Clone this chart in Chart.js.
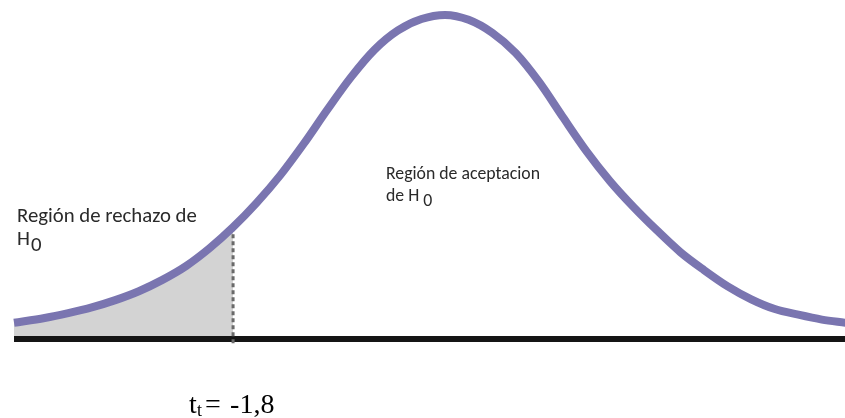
<!DOCTYPE html>
<html>
<head>
<meta charset="utf-8">
<script src="https://cdn.jsdelivr.net/npm/chart.js@4.4.1/dist/chart.umd.min.js"></script>
<style>
  html, body { margin: 0; padding: 0; background: #fff; }
  #curva { display: block; }
</style>
</head>
<body>
<canvas id="curva" width="845" height="418"></canvas>
<script>
// Valores (t vs. altura de la curva)
const tValues = [-3.66, -3.4, -3.2, -3.0, -2.8, -2.6, -2.4, -2.2, -2.0, -1.8, -1.6, -1.4, -1.2, -1.0, -0.8, -0.6, -0.4, -0.2, 0,
  0.2, 0.4, 0.6, 0.8, 1.0, 1.2, 1.4, 1.6, 1.8, 2.0, 2.2, 2.4, 2.6, 2.8, 3.0, 3.2, 3.4];
const densidad = [0.020, 0.026, 0.032, 0.039, 0.048, 0.059, 0.073, 0.090, 0.112, 0.138, 0.168, 0.202, 0.241, 0.283, 0.323, 0.357, 0.381, 0.395, 0.400,
  0.394, 0.378, 0.353, 0.317, 0.274, 0.232, 0.195, 0.163, 0.134, 0.107, 0.085, 0.065, 0.049, 0.037, 0.030, 0.024, 0.020];
const tCritico = -1.8;
const piso = -0.009;

const sansFont = "Carlito, Calibri, Lato, 'Open Sans', sans-serif";
const serifFont = "'Liberation Serif', 'Times New Roman', serif";

const curva = tValues.map((t, i) => ({ x: t, y: densidad[i] }));
const rechazo = curva.filter(p => p.x <= tCritico);
const alturaCritica = densidad[tValues.indexOf(tCritico)];

// Fit text to a width by scaling the font size
const fitFont = (ctx, text, width, family) => {
  ctx.font = `20px ${family}`;
  const size = 20 * width / ctx.measureText(text).width;
  return `${size.toFixed(2)}px ${family}`;
};

const textos = {
  id: 'textos',
  afterDraw(chart) {
    const ctx = chart.ctx;
    ctx.save();
    ctx.textBaseline = 'alphabetic';
    ctx.textAlign = 'left';
    ctx.fillStyle = '#2a2a2a';

    // Region de rechazo
    ctx.font = fitFont(ctx, 'Región de rechazo de', 180, sansFont);
    ctx.fillText('Región de rechazo de', 17, 222);
    ctx.fillText('H', 17, 245);
    ctx.fillText('0', 31, 251);

    // Region de aceptacion
    ctx.font = fitFont(ctx, 'Región de aceptacion', 154, sansFont);
    ctx.fillText('Región de aceptacion', 386, 179);
    ctx.fillText('de H', 386, 201);
    const wDe = ctx.measureText('de H').width;
    ctx.fillText('0', 386 + wDe + 4, 206);

    // t critico
    const xc = chart.scales.x.getPixelForValue(tCritico);
    ctx.fillStyle = '#000';
    ctx.font = `28px ${serifFont}`;
    ctx.fillText('t', xc - 44, 413);
    ctx.fillText('=', xc - 28, 413);
    ctx.fillText(String(tCritico).replace('.', ','), xc - 3, 413);
    ctx.font = `18px ${serifFont}`;
    ctx.fillText('t', xc - 36, 416);
    ctx.restore();
  }
};

new Chart(document.getElementById('curva'), {
  type: 'line',
  data: {
    datasets: [
      {
        label: 'curva',
        data: curva,
        borderColor: '#7a75b0',
        borderWidth: 8,
        cubicInterpolationMode: 'monotone',
        pointRadius: 0,
        fill: false,
      },
      {
        label: 'corte',
        data: [{ x: tCritico, y: alturaCritica }, { x: tCritico, y: piso }],
        borderColor: '#6a6a6a',
        borderWidth: 3,
        borderDash: [4, 3],
        pointRadius: 0,
        fill: false,
      },
      {
        label: 'base',
        data: [{ x: tValues[0], y: 0 }, { x: tValues[tValues.length - 1], y: 0 }],
        borderColor: '#151515',
        borderWidth: 6,
        pointRadius: 0,
        fill: false,
      },
      {
        label: 'rechazo',
        data: rechazo,
        borderWidth: 0,
        borderColor: 'rgba(0,0,0,0)',
        backgroundColor: '#d3d3d3',
        cubicInterpolationMode: 'monotone',
        pointRadius: 0,
        fill: 'origin',
      },
    ],
  },
  options: {
    responsive: false,
    animation: false,
    clip: false,
    layout: { padding: 0 },
    plugins: {
      legend: { display: false },
      tooltip: { enabled: false },
    },
    scales: {
      x: { type: 'linear', display: false, min: -3.779, max: 3.396 },
      y: { display: false, min: -0.0975, max: 0.4185 },
    },
  },
  plugins: [textos],
});
</script>
</body>
</html>
